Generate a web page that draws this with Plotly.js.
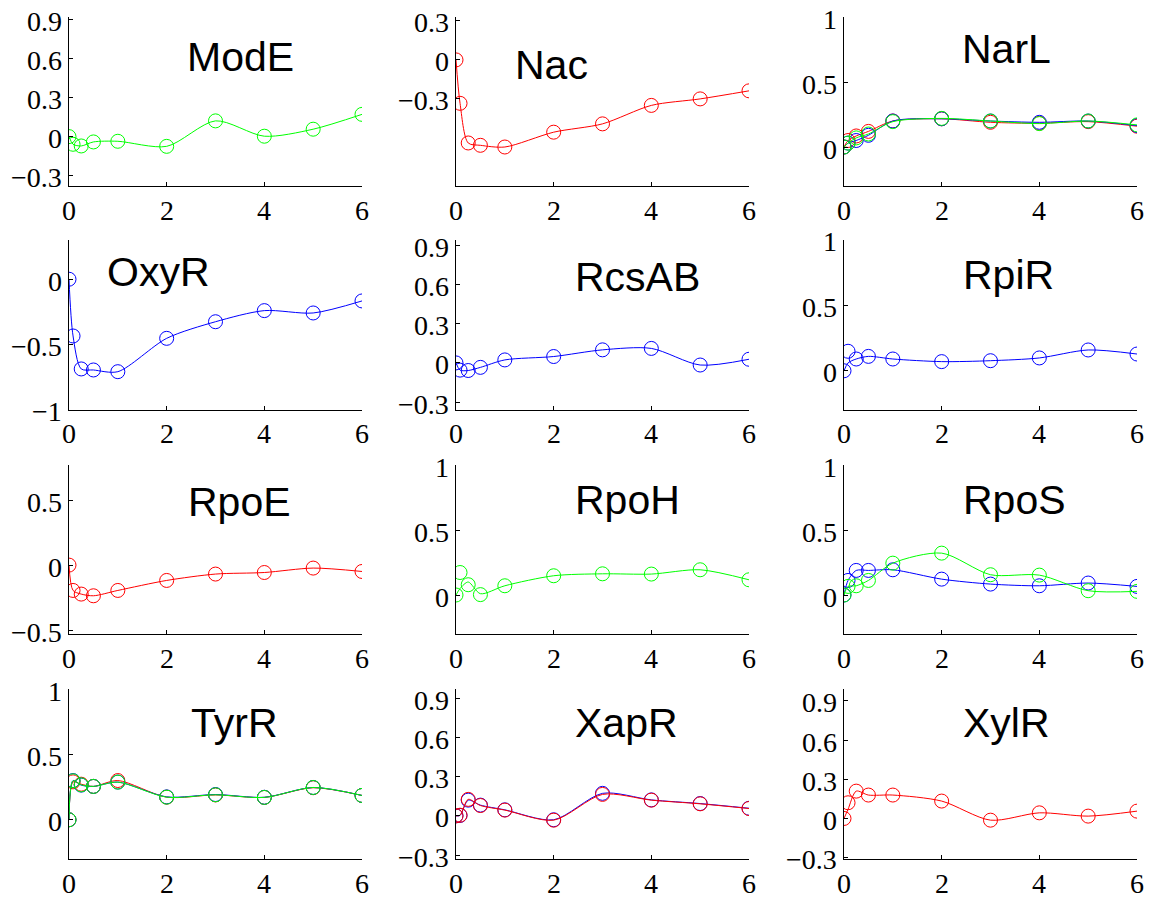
<!DOCTYPE html>
<html><head><meta charset="utf-8">
<script src="https://cdn.plot.ly/plotly-3.0.1.min.js"></script>
<style>html,body{margin:0;padding:0;background:#fff}</style>
</head><body><div id="chart" style="width:1149px;height:899px"></div>
<script>
// ---------- data ----------
const times = [0, 0.083, 0.25, 0.5, 1, 2, 3, 4, 5, 6];
const xTicks = [0, 2, 4, 6];
const panelNames = ['ModE','Nac','NarL','OxyR','RcsAB','RpiR','RpoE','RpoH','RpoS','TyrR','XapR','XylR'];

const modeGreen  = [0, -0.059, -0.072, -0.041, -0.036, -0.075, 0.121, 0.003, 0.057, 0.171];
const nacRed     = [0, -0.334, -0.639, -0.657, -0.670, -0.556, -0.492, -0.350, -0.300, -0.238];
const narlRed    = [0, 0.050, 0.085, 0.120, 0.200, 0.217, 0.190, 0.183, 0.195, 0.160];
const narlBlue   = [0, 0.030, 0.050, 0.090, 0.200, 0.217, 0.200, 0.190, 0.200, 0.165];
const narlGreen  = [0, 0.030, 0.070, 0.100, 0.195, 0.220, 0.200, 0.180, 0.200, 0.170];
const oxyrBlue   = [0, -0.434, -0.686, -0.694, -0.707, -0.452, -0.325, -0.240, -0.258, -0.166];
const rcsabBlue  = [0, -0.055, -0.058, -0.034, 0.023, 0.049, 0.100, 0.111, -0.016, 0.028];
const rpirBlue   = [0, 0.149, 0.090, 0.110, 0.090, 0.070, 0.077, 0.098, 0.159, 0.128];
const rpirBlueFit= [0, 0.060, 0.090, 0.110, 0.090, 0.070, 0.077, 0.098, 0.159, 0.128];
const rpoeRed    = [0, -0.195, -0.223, -0.236, -0.195, -0.118, -0.069, -0.057, -0.023, -0.049];
const rpohGreen  = [0, 0.173, 0.079, 0.003, 0.071, 0.148, 0.163, 0.161, 0.194, 0.117];
const rpohGreenFit=[0, 0.050, 0.100, 0.010, 0.071, 0.148, 0.163, 0.161, 0.194, 0.117];
const rposBlue   = [0, 0.112, 0.189, 0.189, 0.194, 0.122, 0.084, 0.071, 0.092, 0.066];
const rposGreen  = [0, 0.066, 0.071, 0.112, 0.245, 0.322, 0.156, 0.153, 0.033, 0.028];
const tyrrRed    = [0, 0.290, 0.272, 0.255, 0.300, 0.173, 0.190, 0.171, 0.245, 0.186];
const tyrrBlue   = [0, 0.300, 0.265, 0.255, 0.288, 0.175, 0.193, 0.172, 0.247, 0.186];
const tyrrGreen  = [0, 0.298, 0.267, 0.255, 0.288, 0.173, 0.191, 0.171, 0.247, 0.186];
const xaprBlue   = [0, 0.003, 0.120, 0.082, 0.046, -0.030, 0.172, 0.122, 0.094, 0.058];
const xaprRed    = [0, 0.005, 0.126, 0.079, 0.044, -0.033, 0.164, 0.120, 0.092, 0.056];
const xylrRed    = [0, 0.120, 0.209, 0.179, 0.179, 0.133, -0.013, 0.043, 0.018, 0.056];
const xylrRedFit = [0, 0.070, 0.209, 0.179, 0.179, 0.133, -0.013, 0.043, 0.018, 0.056];

const yTicks03 = [-0.3, 0, 0.3, 0.6, 0.9];
const yTicks05 = [0, 0.5, 1];
const nacTicks = [-0.3, 0, 0.3];
const oxyrTicks = [-1, -0.5, 0];
const rpoeTicks = [-0.5, 0, 0.5];

// ---------- styles / layout ----------
const RED = '#ff0000', GREEN = '#00ff00', BLUE = '#0000ff';
const panels = [
  {series: [[modeGreen, GREEN]], range: [-0.38, 0.92], ticks: yTicks03},
  {series: [[nacRed, RED]], range: [-0.97, 0.33], ticks: nacTicks},
  {series: [[narlRed, RED], [narlBlue, BLUE], [narlGreen, GREEN]], range: [-0.3, 1.0], ticks: yTicks05},
  {series: [[oxyrBlue, BLUE]], range: [-1.0, 0.3], ticks: oxyrTicks},
  {series: [[rcsabBlue, BLUE]], range: [-0.36, 0.94], ticks: yTicks03},
  {series: [[rpirBlue, BLUE, rpirBlueFit]], range: [-0.3, 1.0], ticks: yTicks05},
  {series: [[rpoeRed, RED]], range: [-0.53, 0.77], ticks: rpoeTicks},
  {series: [[rpohGreen, GREEN, rpohGreenFit]], range: [-0.3, 1.0], ticks: yTicks05},
  {series: [[rposBlue, BLUE], [rposGreen, GREEN]], range: [-0.3, 1.0], ticks: yTicks05},
  {series: [[tyrrRed, RED], [tyrrBlue, BLUE], [tyrrGreen, GREEN]], range: [-0.3, 1.0], ticks: yTicks05},
  {series: [[xaprBlue, BLUE], [xaprRed, RED]], range: [-0.33, 0.97], ticks: yTicks03},
  {series: [[xylrRed, RED, xylrRedFit]], range: [-0.31, 0.99], ticks: yTicks03}
];
// title left / vertical centre, in page pixels
const titlePos = [[185,57],[513,65],[960,49],[105,272],[573,277],[961,275],
                  [186,502],[573,500],[961,500],[189,723],[573,723],[961,723]];

const W = 1149, H = 899;
const colPx = [[69,362],[456,749],[844,1137]];
const rowPx = [[17,186],[240,410],[465,634],[689,859]];

const tickFont = {family: 'Liberation Serif', size: 28, color: '#000'};
const fmt = v => (v < 0 ? '\u2212' + String(Math.abs(v)) : String(v));
const traces = [];
const layout = {
  width: W, height: H, margin: {l:0, r:0, t:0, b:0},
  paper_bgcolor: '#fff', plot_bgcolor: 'rgba(0,0,0,0)',
  showlegend: false, annotations: []
};

panels.forEach((p, i) => {
  const r = Math.floor(i / 3), c = i % 3;
  const n = i === 0 ? '' : String(i + 1);
  const xa = 'x' + n, ya = 'y' + n;
  p.series.forEach(([vals, col, fit]) => {
    traces.push({x: times, y: fit || vals, xaxis: xa, yaxis: ya, mode: 'lines',
      line: {color: col, width: 1, shape: 'spline', smoothing: 0.8}, hoverinfo: 'skip'});
    traces.push({x: times, y: vals, xaxis: xa, yaxis: ya, mode: 'markers',
      marker: {symbol: 'circle-open', size: 14, color: col, line: {width: 1, color: col}}, hoverinfo: 'skip'});
  });
  layout['xaxis' + n] = {
    domain: [colPx[c][0] / W, colPx[c][1] / W], anchor: ya,
    range: [0, 6], tickvals: xTicks, ticks: 'inside', ticklen: 4, tickcolor: '#000',
    showline: true, linecolor: '#000', linewidth: 1, showgrid: false, zeroline: false,
    showticklabels: false
  };
  layout['yaxis' + n] = {
    domain: [1 - rowPx[r][1] / H, 1 - rowPx[r][0] / H], anchor: xa,
    range: p.range, tickvals: p.ticks, ticks: 'inside', ticklen: 4, tickcolor: '#000',
    showline: true, linecolor: '#000', linewidth: 1, showgrid: false, zeroline: false,
    showticklabels: false
  };
  // tick labels as text placed on the axes' own coordinates
  xTicks.forEach(t => layout.annotations.push({
    text: fmt(t), xref: xa, yref: ya, x: t, y: p.range[0],
    xanchor: 'center', yanchor: 'middle', yshift: -24, showarrow: false, font: tickFont
  }));
  p.ticks.forEach(t => layout.annotations.push({
    text: fmt(t), xref: xa, yref: ya, x: 0, y: t,
    xanchor: 'right', yanchor: 'middle', xshift: -5, yshift: -2, showarrow: false, font: tickFont
  }));
  layout.annotations.push({
    text: panelNames[i], xref: 'paper', yref: 'paper',
    x: titlePos[i][0] / W, y: 1 - titlePos[i][1] / H,
    xanchor: 'left', yanchor: 'middle', showarrow: false,
    font: {family: 'Liberation Sans', size: 41, color: '#000'}
  });
});

Plotly.newPlot('chart', traces, layout, {staticPlot: true, displayModeBar: false});
</script>
</body></html>
